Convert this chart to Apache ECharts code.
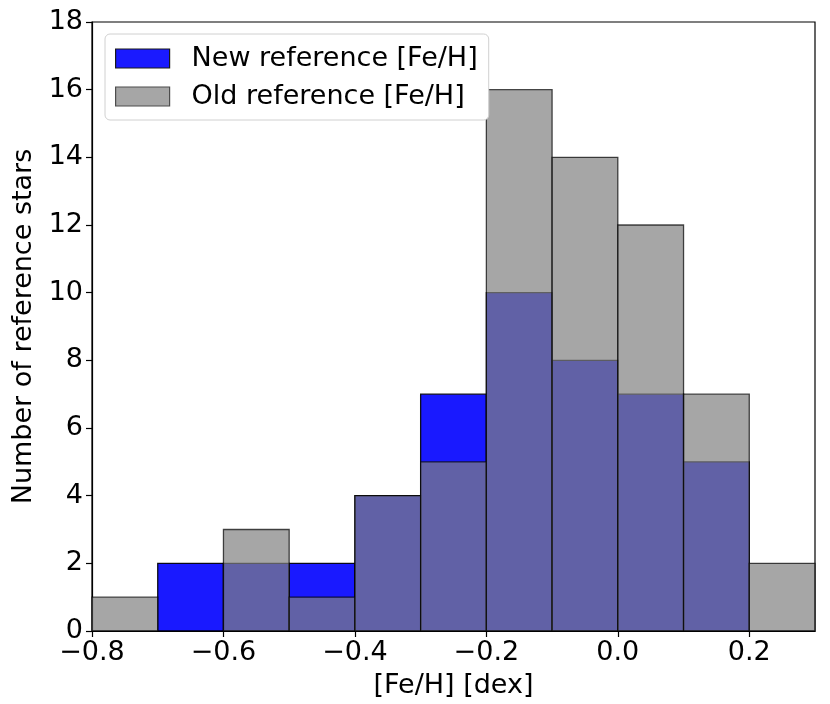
<!DOCTYPE html>
<html>
<head>
<meta charset="utf-8">
<script src="https://cdn.jsdelivr.net/npm/echarts@6/dist/echarts.min.js"></script>
<style>
  html, body { margin: 0; padding: 0; background: #fff; }
  #main { width: 830px; height: 704px; }
</style>
</head>
<body>
<div id="main"></div>
<script>
// histogram bins: left edge, right edge
const binLeft  = [-0.8, -0.7, -0.6, -0.5, -0.4, -0.3, -0.2, -0.1, 0.0, 0.1, 0.2];
const binRight = [-0.7, -0.6, -0.5, -0.4, -0.3, -0.2, -0.1, 0.0, 0.1, 0.2, 0.3];
// counts per bin
const newCounts = [0, 2, 2, 2, 4, 7, 10, 8, 7, 5, 0];
const oldCounts = [1, 0, 3, 1, 4, 5, 16, 14, 12, 7, 2];
const xTicks = [-0.8, -0.6, -0.4, -0.2, 0.0, 0.2];

const font = 'DejaVu Sans';
const fs = 27;

function toRows(counts) {
    return counts.map((c, i) => [binLeft[i], binRight[i], c]);
}

function makeRender(fill, alpha) {
    return function (params, api) {
        const y = api.value(2);
        if (!y) return;
        const p0 = api.coord([api.value(0), 0]);
        const p1 = api.coord([api.value(1), y]);
        return {
            type: 'rect',
            shape: { x: p0[0], y: p1[1], width: p1[0] - p0[0], height: p0[1] - p1[1] },
            style: { fill: fill, stroke: '#000', lineWidth: 1.3, opacity: alpha }
        };
    };
}

const chart = echarts.init(document.getElementById('main'));
chart.setOption({
    animation: false,
    grid: {
        left: 92, right: 15, top: 22, bottom: 73,
        show: true, borderColor: '#000', borderWidth: 1.2, backgroundColor: 'transparent'
    },
    legend: {
        orient: 'vertical',
        left: 105, top: 34,
        padding: [11, 11, 10, 10],
        itemGap: 11,
        itemWidth: 54,
        itemHeight: 19,
        backgroundColor: '#fff',
        borderColor: '#d0d0d0',
        borderWidth: 1,
        borderRadius: 5,
        textStyle: { fontFamily: font, fontSize: fs, lineHeight: 27, color: '#000', padding: [0, 0, 0, 17] },
        data: [
            { name: 'New reference [Fe/H]', icon: 'rect',
              itemStyle: { color: '#1a1aff', borderColor: '#1a1a1a', borderWidth: 1.2 } },
            { name: 'Old reference [Fe/H]', icon: 'rect',
              itemStyle: { color: '#a6a6a6', borderColor: '#4d4d4d', borderWidth: 1.2 } }
        ]
    },
    xAxis: {
        type: 'value',
        min: -0.8, max: 0.3,
        name: '[Fe/H] [dex]',
        nameLocation: 'middle',
        nameGap: 41,
        nameTextStyle: { fontFamily: font, fontSize: fs, color: '#000' },
        axisLine: { show: true, onZero: false, lineStyle: { color: '#000', width: 1.2 } },
        axisTick: { show: true, length: 6, lineStyle: { color: '#000', width: 1.2 }, customValues: xTicks },
        axisLabel: {
            fontFamily: font, fontSize: fs, color: '#000', margin: 8,
            customValues: xTicks,
            formatter: v => (Math.abs(v) < 1e-9 ? '0.0' : v.toFixed(1)).replace('-', '\u2212')
        },
        splitLine: { show: false }
    },
    yAxis: {
        type: 'value',
        min: 0, max: 18, interval: 2,
        name: 'Number of reference stars',
        nameLocation: 'middle',
        nameGap: 48,
        nameTextStyle: { fontFamily: font, fontSize: fs, color: '#000' },
        axisLine: { show: true, onZero: false, lineStyle: { color: '#000', width: 1.2 } },
        axisTick: { show: true, length: 6, lineStyle: { color: '#000', width: 1.2 } },
        axisLabel: { fontFamily: font, fontSize: fs, color: '#000', margin: 9 },
        splitLine: { show: false }
    },
    series: [
        {
            name: 'New reference [Fe/H]',
            type: 'custom',
            renderItem: makeRender('#0000ff', 0.9),
            itemStyle: { color: '#1a1aff' },
            encode: { x: [0, 1], y: 2 },
            data: toRows(newCounts),
            z: 2
        },
        {
            name: 'Old reference [Fe/H]',
            type: 'custom',
            renderItem: makeRender('#808080', 0.7),
            itemStyle: { color: '#a6a6a6' },
            encode: { x: [0, 1], y: 2 },
            data: toRows(oldCounts),
            z: 3
        }
    ]
});
</script>
</body>
</html>
